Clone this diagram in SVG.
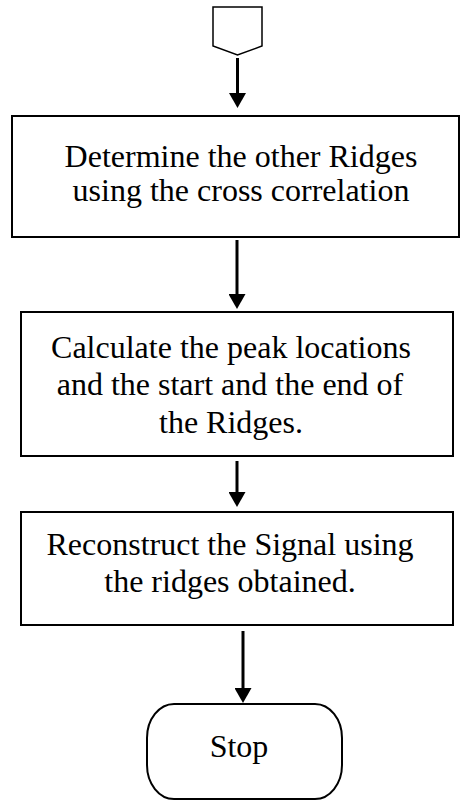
<svg xmlns="http://www.w3.org/2000/svg" width="460" height="801" viewBox="0 0 460 801">
  <style>
    .box { fill: #ffffff; stroke: #000000; stroke-width: 2; }
    .conn { fill: #ffffff; stroke: #000000; stroke-width: 1.5; }
    .flow { fill: none; stroke: #000000; stroke-width: 3; marker-end: url(#head); }
    .lbl { font-family: "Liberation Serif", "Times New Roman", serif; font-size: 32px; fill: #000000; text-anchor: middle; }
  </style>
  <defs>
    <marker id="head" viewBox="0 0 15 17" refX="5" refY="8.5" markerWidth="15" markerHeight="17" markerUnits="userSpaceOnUse" orient="auto">
      <path d="M0,0 L15,8.5 L0,17 z" fill="#000000"/>
    </marker>
  </defs>

  <rect width="460" height="801" fill="#ffffff"/>

  <!-- off-page connector at the top -->
  <g id="connector-in">
    <polygon class="conn" points="213,7 262,7 262,46 237.5,55 213,46"/>
  </g>

  <g id="step-ridges">
    <rect class="box" x="12" y="116" width="447" height="121"/>
    <text class="lbl" x="241" y="167">Determine the other Ridges</text>
    <text class="lbl" x="241" y="201">using the cross correlation</text>
  </g>

  <g id="step-peaks">
    <rect class="box" x="21" y="312" width="432" height="144"/>
    <text class="lbl" x="231" y="358">Calculate the peak locations</text>
    <text class="lbl" x="230" y="395">and the start and the end of</text>
    <text class="lbl" x="231" y="433">the Ridges.</text>
  </g>

  <g id="step-reconstruct">
    <rect class="box" x="21" y="512" width="432" height="113"/>
    <text class="lbl" x="230" y="555">Reconstruct the Signal using</text>
    <text class="lbl" x="230" y="592">the ridges obtained.</text>
  </g>

  <g id="stop">
    <rect class="box" x="147" y="704" width="195" height="95" rx="27" ry="34"/>
    <text class="lbl" x="239" y="757">Stop</text>
  </g>

  <g id="connectors">
    <line class="flow" x1="237.5" y1="58" x2="237.5" y2="98"/>
    <line class="flow" x1="237" y1="240" x2="237" y2="299"/>
    <line class="flow" x1="237" y1="461" x2="237" y2="497"/>
    <line class="flow" x1="243" y1="631" x2="243" y2="693"/>
  </g>
</svg>
